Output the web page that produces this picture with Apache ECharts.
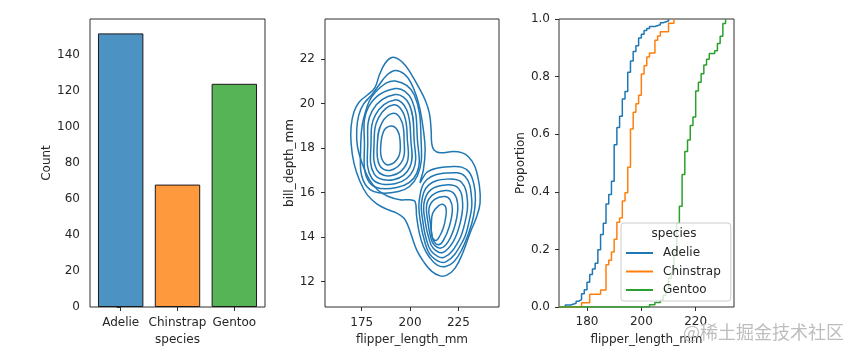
<!DOCTYPE html>
<html><head><meta charset="utf-8">
<script src="https://cdn.jsdelivr.net/npm/echarts@6/dist/echarts.min.js"></script>
<style>html,body{margin:0;padding:0;background:#fff}#c{width:857px;height:357px}</style>
</head><body><div id="c"></div>
<script>
// ---------- data ----------
const species = ['Adelie', 'Chinstrap', 'Gentoo'];
const counts = [152, 68, 124];
const countTicks = [0, 20, 40, 60, 80, 100, 120, 140];
const kdeFlipperTicks = [175, 200, 225];
const billTicks = [12, 14, 16, 18, 20, 22];
const ecdfFlipperTicks = [180, 200, 220];
const proportionTicks = [0, 0.2, 0.4, 0.6, 0.8, 1.0];

// KDE iso-density contours [flipper_length_mm, bill_depth_mm]
const kdeLevel1 = [[190.5,22.07],[194.0,22.0],[197.4,21.73],[200.9,21.28],[204.3,20.76],[207.8,20.16],[210.0,19.56],[210.9,18.81],[211.2,18.21],[212.4,17.91],[215.5,17.79],[222.4,17.84],[226.7,17.79],[230.2,17.61],[233.6,17.16],[235.9,16.27],[236.2,15.52],[234.5,14.92],[231.0,14.17],[227.2,13.27],[223.3,12.60],[219.0,12.28],[215.5,12.25],[211.2,12.45],[206.9,12.90],[203.4,13.42],[200.9,14.02],[199.1,14.47],[196.9,14.84],[193.1,15.07],[187.9,15.25],[182.8,15.49],[177.9,15.89],[174.1,16.49],[171.0,17.31],[169.5,18.21],[169.5,18.96],[171.0,19.63],[173.8,20.08],[177.9,20.38],[181.9,20.73],[184.1,21.28],[187.1,21.81]];
const kdeLevel2 = [[192.2,21.48],[196.9,21.33],[200.4,20.94],[203.1,20.38],[205.2,19.71],[206.9,18.81],[207.8,17.91],[206.9,17.02],[205.2,16.45],[208.6,16.90],[213.8,17.09],[220.7,17.16],[226.7,17.14],[230.7,16.90],[233.1,16.34],[233.8,15.67],[232.8,14.92],[230.3,14.17],[226.9,13.45],[222.8,12.90],[218.4,12.67],[214.1,12.73],[210.0,13.09],[206.9,13.57],[204.8,14.17],[203.4,14.92],[202.6,15.59],[200.0,15.67],[194.8,15.67],[188.8,15.82],[183.6,16.09],[179.0,16.57],[175.5,17.24],[172.8,18.06],[172.4,18.81],[173.5,19.49],[176.0,19.98],[179.8,20.35],[183.6,20.79],[187.6,21.24]];
const kdeLeft3 = [[192.4,21.01],[202.2,20.38],[205.7,18.36],[203.8,16.75],[194.0,16.04],[177.6,16.27],[174.5,18.21],[177.9,19.89],[183.6,20.64]];
const kdeLeft4 = [[192.4,20.67],[200.9,20.16],[203.8,18.36],[203.5,16.87],[193.1,16.22],[179.0,16.45],[176.4,18.21],[178.6,19.86]];
const kdeLeft5 = [[192.2,20.40],[199.7,19.94],[202.1,18.36],[201.7,17.02],[192.2,16.39],[180.2,16.64],[178.1,18.21],[180.4,19.67]];
const kdeLeft6 = [[192.1,20.16],[198.3,19.71],[200.4,18.36],[200.0,17.16],[191.4,16.57],[181.4,16.84],[179.8,18.21],[182.1,19.49]];
const kdeLeft7 = [[191.7,19.94],[196.9,19.49],[198.6,18.36],[198.3,17.31],[190.5,16.76],[182.8,17.02],[181.4,18.21],[183.6,19.34]];
const kdeLeft8 = [[191.4,19.56],[195.7,19.19],[196.9,18.36],[196.2,17.46],[189.6,16.99],[184.1,17.24],[183.1,18.21],[185.3,19.11]];
const kdeLeft9 = [[190.2,18.99],[193.4,18.81],[194.8,18.36],[194.1,17.61],[188.8,17.24],[185.5,17.49],[184.8,18.06],[186.5,18.78]];
const kdeRight3 = [[204.8,15.67],[208.6,16.57],[219.0,16.87],[228.5,16.72],[231.9,15.67],[230.7,14.77],[227.2,13.80],[218.5,12.88],[211.2,13.12],[207.8,13.72],[205.2,14.77]];
const kdeRight4 = [[206.0,15.59],[209.7,16.34],[219.0,16.60],[226.7,16.45],[229.7,15.59],[228.5,14.70],[225.0,13.80],[217.8,13.09],[211.6,13.30],[208.6,13.84],[206.6,14.70]];
const kdeRight5 = [[207.2,15.52],[210.7,16.12],[218.6,16.34],[225.0,16.19],[227.2,15.49],[225.9,14.62],[222.4,13.80],[216.9,13.30],[211.9,13.50],[209.7,13.95],[207.9,14.65]];
const kdeRight6 = [[208.6,15.44],[211.7,15.89],[218.3,16.09],[222.8,15.94],[224.7,15.37],[223.3,14.55],[219.8,13.80],[215.9,13.50],[212.1,13.68],[210.5,14.05],[209.3,14.62]];
const kdeRight7 = [[209.8,15.29],[212.9,15.70],[217.9,15.82],[220.7,15.67],[221.9,15.22],[220.3,14.47],[217.2,13.84],[214.7,13.65],[212.1,13.84],[211.2,14.17],[210.5,14.62]];
const kdeRight8 = [[211.7,15.07],[214.7,15.40],[217.2,15.46],[218.6,15.29],[218.5,14.92],[217.2,14.40],[215.2,14.02],[213.5,13.84],[211.7,13.95],[211.0,14.17],[211.0,14.55]];
const kdeContours = [kdeLevel1, kdeLevel2, kdeLeft3, kdeLeft4, kdeLeft5, kdeLeft6, kdeLeft7, kdeLeft8, kdeLeft9,
  kdeRight3, kdeRight4, kdeRight5, kdeRight6, kdeRight7, kdeRight8];

// ECDF steps [flipper_length_mm, cumulative proportion]
const ecdfAdelie = [[172,0.007],[174,0.013],[176,0.020],[177,0.026],[178,0.046],[179,0.060],[180,0.086],[181,0.113],[182,0.132],[183,0.152],[184,0.199],[185,0.252],[186,0.291],[187,0.358],[188,0.391],[189,0.437],[190,0.563],[191,0.623],[192,0.662],[193,0.722],[194,0.748],[195,0.815],[196,0.854],[197,0.887],[198,0.907],[199,0.934],[200,0.947],[201,0.960],[202,0.967],[203,0.974],[205,0.980],[207,0.987],[208,0.993],[210,1.0]];
const ecdfChinstrap = [[178,0.015],[181,0.044],[185,0.059],[187,0.147],[188,0.162],[189,0.191],[190,0.235],[191,0.294],[192,0.309],[193,0.368],[194,0.397],[195,0.485],[196,0.618],[197,0.676],[198,0.706],[199,0.735],[200,0.809],[201,0.838],[202,0.868],[203,0.882],[205,0.926],[206,0.941],[207,0.956],[210,0.985],[212,1.0]];
const ecdfGentoo = [[203,0.008],[205,0.016],[207,0.024],[208,0.04],[209,0.06],[210,0.10],[211,0.12],[212,0.19],[213,0.29],[214,0.35],[215,0.46],[216,0.54],[217,0.58],[218,0.63],[219,0.66],[220,0.75],[221,0.78],[222,0.81],[223,0.84],[224,0.86],[225,0.88],[227,0.89],[228,0.915],[229,0.94],[230,0.984],[231,1.0]];

// ---------- style ----------
const FONT = 'DejaVu Sans';
const TXT = '#262626';
const SPINE = '#2e2e2e';
const FS = 12;
const palette = ['#1f77b4', '#ff7f0e', '#2ca02c'];
const barFill = ['#4c92c3', '#ff993e', '#56b356'];
const ecdfMin = 169.7, ecdfMax = 234.1;
const barSlot = [-0.54, 2.54];   // category axis extent (bars are 0.8 wide, 5% margin)

const chart = echarts.init(document.getElementById('c'), null, {renderer: 'canvas'});

const gridBase = {top: 19, height: 288, show: true, borderColor: SPINE, borderWidth: 1, backgroundColor: 'transparent'};
const tick = {show: true, inside: false, length: 4, lineStyle: {color: SPINE, width: 1}};
const lbl = {color: TXT, fontSize: FS, fontFamily: FONT};
const nameStyle = {color: TXT, fontSize: FS, fontFamily: FONT};

function valAxis(gi, min, max, ticks, name, gap, margin, fmt) {
  return {
    type: 'value', gridIndex: gi, min: min, max: max,
    name: name, nameLocation: 'middle', nameGap: gap, nameTextStyle: nameStyle,
    axisLine: {show: false}, splitLine: {show: false},
    axisTick: Object.assign({customValues: ticks}, tick),
    axisLabel: Object.assign({customValues: ticks, margin: margin, formatter: fmt || (v => String(v))}, lbl)
  };
}

const option = {
  animation: false,
  backgroundColor: '#fff',
  textStyle: {fontFamily: FONT},
  grid: [
    Object.assign({left: 90, width: 175}, gridBase),
    Object.assign({left: 325, width: 174}, gridBase),
    Object.assign({left: 559, width: 175}, gridBase)
  ],
  xAxis: [
    valAxis(0, barSlot[0], barSlot[1], species.map((s, i) => i), 'species', 27, 10, v => species[Math.round(v)]),
    valAxis(1, 156, 246, kdeFlipperTicks, 'flipper_length_mm', 27, 10),
    valAxis(2, ecdfMin, ecdfMax, ecdfFlipperTicks, 'flipper_length_mm', 27, 9)
  ],
  yAxis: [
    valAxis(0, 0, 160, countTicks, 'Count', 37, 10),
    valAxis(1, 10.85, 23.8, billTicks, 'bill_depth_mm', 22, 10),
    valAxis(2, 0, 1, proportionTicks, 'Proportion', 31, 9, v => v.toFixed(1))
  ],
  legend: {
    data: species, orient: 'vertical', left: 621, top: 223,
    selectedMode: false, itemWidth: 27, itemHeight: 12, itemGap: 6.5,
    padding: [24, 10, 5, 4],
    itemStyle: {color: 'rgba(0,0,0,0)', borderWidth: 0, opacity: 0},
    backgroundColor: 'rgba(255,255,255,0.8)', borderColor: '#cccccc', borderWidth: 1, borderRadius: 3,
    textStyle: {color: TXT, fontSize: FS, fontFamily: FONT, padding: [0, 0, 0, 5]}
  },
  graphic: [
    {type: 'text', x: 674, y: 234, z: 100,
     style: {text: 'species', fill: TXT, font: FS + 'px "' + FONT + '"', align: 'center', verticalAlign: 'middle'}},
    {type: 'text', x: 683, y: 332, z: 100,
     style: {text: '@稀土掘金技术社区', fill: '#bdbdbd', font: '18px "Noto Sans CJK SC"', align: 'left', verticalAlign: 'middle'}}
  ],
  series: [
    {type: 'bar', name: 'count', xAxisIndex: 0, yAxisIndex: 0, barWidth: 45.4,
     data: counts.map((v, i) => ({value: [i, v], itemStyle: {color: barFill[i], borderColor: '#1a1a1a', borderWidth: 1}}))},
    {type: 'custom', name: 'kde', xAxisIndex: 1, yAxisIndex: 1,
     data: kdeContours.map(c => c[0]),
     renderItem: function (params, api) {
       const pts = kdeContours[params.dataIndex].map(p => api.coord(p));
       return {type: 'polygon', shape: {points: pts, smooth: 0.4},
               style: {fill: 'none', stroke: palette[0], lineWidth: 1.5}};
     }},
    ...[ecdfAdelie, ecdfChinstrap, ecdfGentoo].map((d, i) => ({
      type: 'line', name: species[i], xAxisIndex: 2, yAxisIndex: 2, step: 'end',
      symbol: 'none', showSymbol: false,
      data: [[ecdfMin, 0]].concat(d),
      lineStyle: {color: palette[i], width: 1.5}, itemStyle: {color: palette[i]}
    }))
  ]
};
chart.setOption(option);
</script>
</body></html>
